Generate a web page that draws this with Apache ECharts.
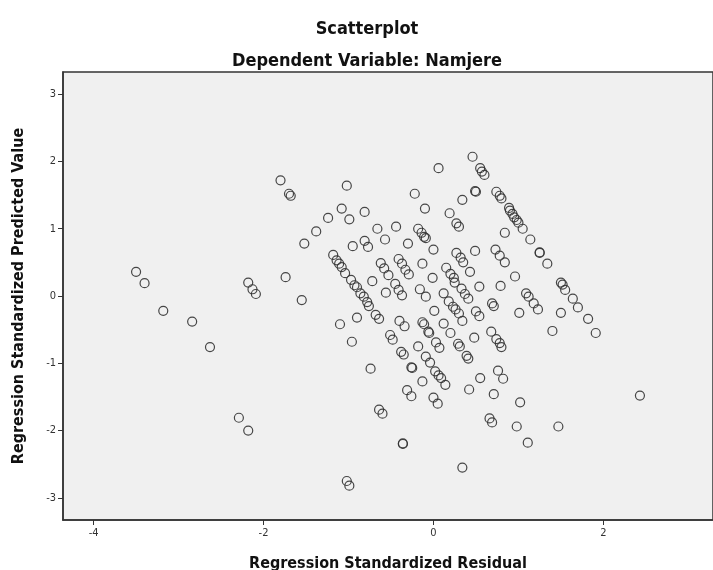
<!DOCTYPE html>
<html>
<head>
<meta charset="utf-8">
<script src="https://cdn.jsdelivr.net/npm/echarts@6/dist/echarts.min.js"></script>
<style>html,body{margin:0;padding:0;background:#fff;}#c{width:713px;height:570px;}</style>
</head>
<body>
<div id="c"></div>
<script>
const titleText = 'Scatterplot';
const subtitleText = 'Dependent Variable: Namjere';
const xName = 'Regression Standardized Residual';
const yName = 'Regression Standardized Predicted Value';
const xTicks = [-4, -2, 0, 2];
const yTicks = [-3, -2, -1, 0, 1, 2, 3];

// Regression standardized residuals (x)
const residual = [
-3.50,-3.40,-3.18,-2.84,-2.63,-2.29,-2.18,-2.18,-2.13,-2.09,-1.74,-1.55,-1.52,-1.80,-1.70,-1.68,
-1.02,-1.08,-0.99,-0.81,-1.24,-1.38,-0.95,-0.81,-0.77,
-1.18,-1.14,-1.11,-1.08,-1.04,-0.97,-0.93,-0.90,-0.86,-0.82,-0.78,-0.76,
0.06,0.46,0.55,0.57,0.60,0.49,0.50,0.34,-0.22,-0.10,0.19,0.27,0.30,-0.66,-0.44,-0.57,-0.30,
-0.18,-0.14,-0.11,-0.09,0.00,0.49,0.27,0.32,0.35,-0.62,-0.58,-0.53,-0.41,-0.37,-0.33,-0.29,
-0.72,-0.45,-0.41,-0.37,-0.56,-0.13,-0.01,-0.16,-0.09,0.15,0.20,0.24,0.25,0.43,0.54,
0.33,0.37,0.41,0.12,0.18,0.23,0.26,0.30,0.34,0.01,0.50,0.54,
-0.90,-0.68,-0.64,-0.40,-0.34,-0.13,-0.11,-0.06,-0.05,0.12,0.20,0.48,-0.51,-0.48,-0.18,
0.03,0.07,0.29,0.31,-0.38,-0.35,-0.09,-0.04,-0.26,-0.25,0.39,0.41,-0.74,0.02,0.06,0.09,0.14,
-0.13,0.55,0.42,-0.31,-0.26,0.00,0.05,-0.64,-0.60,-0.36,-0.36,0.34,-1.02,-0.99,-1.10,-0.96,
0.74,0.78,0.80,0.89,0.90,0.93,0.95,0.98,1.00,1.05,1.14,1.25,1.25,1.34,1.50,1.52,1.55,1.64,
1.70,1.82,1.91,1.40,0.84,0.73,0.78,0.84,0.96,0.79,1.09,1.12,1.18,1.23,0.69,0.71,1.01,1.50,
0.68,0.74,0.78,0.80,0.76,0.82,0.71,1.02,0.66,0.69,0.98,1.47,1.11,2.43
];
// Regression standardized predicted values (y)
const predicted = [
0.36,0.19,-0.22,-0.38,-0.76,-1.81,-2.00,0.20,0.10,0.03,0.28,-0.06,0.78,1.72,1.52,1.49,
1.64,1.30,1.14,1.25,1.16,0.96,0.74,0.82,0.73,
0.61,0.53,0.48,0.43,0.34,0.24,0.16,0.13,0.04,-0.01,-0.09,-0.15,
1.90,2.07,1.90,1.85,1.80,1.56,1.55,1.43,1.52,1.30,1.23,1.08,1.03,1.00,1.03,0.84,0.78,
1.00,0.94,0.88,0.86,0.69,0.67,0.64,0.57,0.50,0.49,0.41,0.31,0.55,0.48,0.39,0.32,
0.22,0.18,0.09,0.01,0.05,0.48,0.27,0.10,-0.01,0.42,0.33,0.27,0.20,0.36,0.14,
0.11,0.03,-0.04,0.04,-0.08,-0.16,-0.20,-0.26,-0.37,-0.22,-0.23,-0.30,
-0.32,-0.28,-0.34,-0.37,-0.45,-0.39,-0.42,-0.53,-0.55,-0.41,-0.55,-0.62,-0.58,-0.65,-0.75,
-0.69,-0.77,-0.71,-0.75,-0.83,-0.87,-0.90,-0.99,-1.06,-1.07,-0.89,-0.93,-1.08,-1.12,-1.18,-1.22,-1.32,
-1.27,-1.22,-1.39,-1.40,-1.49,-1.51,-1.60,-1.69,-1.75,-2.19,-2.20,-2.55,-2.75,-2.82,-0.42,-0.68,
1.55,1.49,1.45,1.31,1.27,1.22,1.17,1.13,1.09,1.00,0.84,0.65,0.64,0.48,0.20,0.17,0.09,-0.04,
-0.17,-0.34,-0.55,-0.52,0.94,0.69,0.60,0.50,0.29,0.15,0.04,-0.01,-0.11,-0.20,-0.11,-0.15,-0.25,-0.25,
-0.53,-0.64,-0.70,-0.76,-1.11,-1.23,-1.46,-1.58,-1.82,-1.88,-1.94,-1.94,-2.18,-1.48
];

const points = residual.map((x, i) => [x, predicted[i]]);
const fontFam = '"DejaVu Sans Condensed", "DejaVu Sans", sans-serif';

const chart = echarts.init(document.getElementById('c'), null, {renderer: 'canvas'});
chart.setOption({
  animation: false,
  backgroundColor: '#ffffff',
  title: [
    {text: titleText, left: 362, top: 15, textAlign: 'center',
     textStyle: {fontFamily: fontFam, fontSize: 18, fontWeight: 'bold', color: '#111'}},
    {text: subtitleText, left: 362, top: 47, textAlign: 'center',
     textStyle: {fontFamily: fontFam, fontSize: 18, fontWeight: 'bold', color: '#111'}}
  ],
  grid: {left: 63, right: 0, top: 72, bottom: 50, show: true, outerBoundsMode: 'none', containLabel: false,
         backgroundColor: '#f0f0f0', borderColor: '#333', borderWidth: 1.5},
  xAxis: {
    type: 'value', min: -4.36, max: 3.29,
    name: xName, nameLocation: 'middle', nameGap: 36,
    nameTextStyle: {fontFamily: fontFam, fontSize: 16, fontWeight: 'bold', color: '#111'},
    axisLine: {show: true, onZero: false, lineStyle: {color: '#333', width: 1.5}},
    axisTick: {show: true, inside: false, length: 5, customValues: xTicks, lineStyle: {color: '#333'}},
    axisLabel: {customValues: xTicks, fontFamily: fontFam, fontSize: 11, color: '#333', margin: 8},
    splitLine: {show: false}
  },
  yAxis: {
    type: 'value', min: -3.33, max: 3.33,
    name: yName, nameLocation: 'middle', nameGap: 36, nameRotate: 90,
    nameTextStyle: {fontFamily: fontFam, fontSize: 16, fontWeight: 'bold', color: '#111'},
    axisLine: {show: true, onZero: false, lineStyle: {color: '#333', width: 1.5}},
    axisTick: {show: true, inside: false, length: 5, customValues: yTicks, lineStyle: {color: '#333'}},
    axisLabel: {customValues: yTicks, fontFamily: fontFam, fontSize: 11, color: '#333', margin: 7},
    splitLine: {show: false}
  },
  series: [{
    type: 'scatter',
    data: points,
    symbol: 'circle',
    symbolSize: 9,
    itemStyle: {color: 'rgba(0,0,0,0)', borderColor: '#333', borderWidth: 1.2, opacity: 0.9}
  }]
});
</script>
</body>
</html>
